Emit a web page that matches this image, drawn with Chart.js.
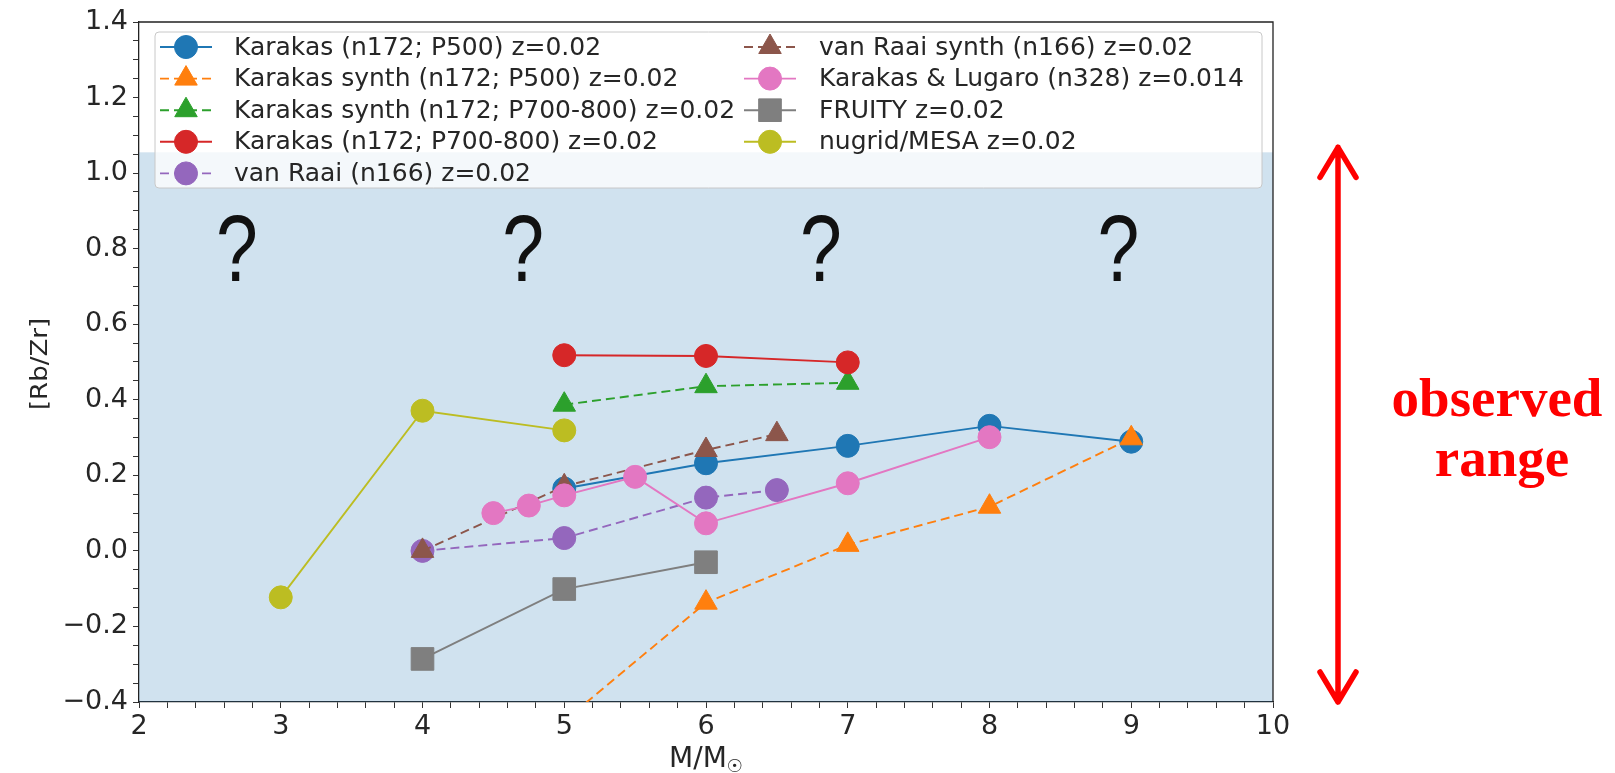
<!DOCTYPE html>
<html>
<head>
<meta charset="utf-8">
<title>[Rb/Zr] vs initial mass</title>
<script src="https://cdn.jsdelivr.net/npm/chart.js@4.4.1/dist/chart.umd.min.js"></script>
<style>
  html, body { margin: 0; padding: 0; background: #ffffff; }
  #wrap { width: 1615px; height: 773px; }
</style>
</head>
<body>
<div id="wrap"><canvas id="rbzrChart" width="1615" height="773"></canvas></div>
<script>
// model grids: initial mass (M/Msun) and surface [Rb/Zr]
const karakasP500Mass = [5, 6, 7, 8, 9];
const karakasP500RbZr = [0.165, 0.232, 0.278, 0.331, 0.289];

const karakasSynthP500Mass = [5, 6, 7, 8, 9];
const karakasSynthP500RbZr = [-0.45, -0.137, 0.016, 0.117, 0.298];

const karakasSynthP700Mass = [5, 6, 7];
const karakasSynthP700RbZr = [0.387, 0.436, 0.445];

const karakasP700Mass = [5, 6, 7];
const karakasP700RbZr = [0.518, 0.516, 0.499];

const vanRaaiMass = [4, 5, 6, 6.5];
const vanRaaiRbZr = [0.0, 0.034, 0.141, 0.161];

const vanRaaiSynthMass = [4, 5, 6, 6.5];
const vanRaaiSynthRbZr = [0.0, 0.171, 0.267, 0.309];

const karakasLugaroMass = [4.5, 4.75, 5, 5.5, 6, 7, 8];
const karakasLugaroRbZr = [0.10, 0.12, 0.147, 0.196, 0.073, 0.179, 0.301];

const fruityMass = [4, 5, 6];
const fruityRbZr = [-0.286, -0.101, -0.030];

const nugridMass = [3, 4, 5];
const nugridRbZr = [-0.123, 0.371, 0.319];

// axis ticks (majors get labels, the rest are minor marks)
const xTickValues = [];
for (let i = 0; i <= 40; i++) xTickValues.push(2 + i * 0.2);
const yTickValues = [];
for (let i = 0; i <= 36; i++) yTickValues.push(-0.4 + i * 0.05);

// shaded band of observed [Rb/Zr]
const observedRange = [-0.4, 1.055];

// "?" placeholders for the unexplained stars
const questionX = [2.69, 4.71, 6.81, 8.91];
const questionY = 0.715;

const tickFont = { family: '"DejaVu Sans"', size: 27 };
const textColor = '#262626';

function pairs(xs, ys) {
    return xs.map((x, i) => ({ x: x, y: ys[i] }));
}

function series(label, xs, ys, color, style, dashed) {
    return {
        label: label,
        data: pairs(xs, ys),
        showLine: true,
        borderColor: color,
        backgroundColor: color,
        borderWidth: 1.9,
        borderDash: dashed ? [9, 5] : [],
        pointStyle: style,
        pointRadius: style === 'triangle' ? 13 : (style === 'rect' ? 16 : 11.5),
        pointBackgroundColor: color,
        pointBorderColor: color,
        pointBorderWidth: 1,
        tension: 0
    };
}

const datasets = [
    series('Karakas (n172; P500) z=0.02', karakasP500Mass, karakasP500RbZr, '#1f77b4', 'circle', false),
    series('Karakas synth (n172; P500) z=0.02', karakasSynthP500Mass, karakasSynthP500RbZr, '#ff7f0e', 'triangle', true),
    series('Karakas synth (n172; P700-800) z=0.02', karakasSynthP700Mass, karakasSynthP700RbZr, '#2ca02c', 'triangle', true),
    series('Karakas (n172; P700-800) z=0.02', karakasP700Mass, karakasP700RbZr, '#d62728', 'circle', false),
    series('van Raai (n166) z=0.02', vanRaaiMass, vanRaaiRbZr, '#9467bd', 'circle', true),
    series('van Raai synth (n166) z=0.02', vanRaaiSynthMass, vanRaaiSynthRbZr, '#8c564b', 'triangle', true),
    series('Karakas & Lugaro (n328) z=0.014', karakasLugaroMass, karakasLugaroRbZr, '#e377c2', 'circle', false),
    series('FRUITY z=0.02', fruityMass, fruityRbZr, '#7f7f7f', 'rect', false),
    series('nugrid/MESA z=0.02', nugridMass, nugridRbZr, '#bcbd22', 'circle', false)
];
// later series sit on top of earlier ones
datasets.forEach((ds, i) => { ds.order = -i; });

// band, frame, "?" marks, legend, axis titles and the side arrow
const decorPlugin = {
    id: 'decor',
    beforeDatasetsDraw(chart) {
        const { ctx, chartArea } = chart;
        const yScale = chart.scales.y;
        const top = yScale.getPixelForValue(observedRange[1]);
        const bottom = Math.min(chartArea.bottom, yScale.getPixelForValue(observedRange[0]));
        ctx.save();
        ctx.fillStyle = 'rgba(31, 119, 180, 0.21)';
        ctx.fillRect(chartArea.left, top, chartArea.right - chartArea.left, bottom - top);
        ctx.restore();
    },
    afterDatasetsDraw(chart) {
        const { ctx, chartArea } = chart;
        const xScale = chart.scales.x;
        const yScale = chart.scales.y;
        ctx.save();

        // top and right spines
        ctx.strokeStyle = '#222';
        ctx.lineWidth = 1.3;
        ctx.beginPath();
        ctx.moveTo(chartArea.left, chartArea.top);
        ctx.lineTo(chartArea.right, chartArea.top);
        ctx.lineTo(chartArea.right, chartArea.bottom);
        ctx.stroke();

        // question marks, drawn a little narrow
        ctx.fillStyle = '#111';
        ctx.font = '94px "Liberation Sans"';
        ctx.textAlign = 'center';
        ctx.textBaseline = 'alphabetic';
        questionX.forEach(x => {
            ctx.save();
            ctx.translate(xScale.getPixelForValue(x), yScale.getPixelForValue(questionY));
            ctx.scale(0.8, 1);
            ctx.fillText('?', 0, 0);
            ctx.restore();
        });

        // legend box
        const box = { x: 155, y: 32, w: 1107, h: 156 };
        ctx.fillStyle = 'rgba(255, 255, 255, 0.78)';
        ctx.strokeStyle = '#c8c8c8';
        ctx.lineWidth = 1;
        ctx.beginPath();
        ctx.roundRect(box.x, box.y, box.w, box.h, 4);
        ctx.fill();
        ctx.stroke();

        const cols = [{ hx: 186, tx: 234 }, { hx: 770, tx: 819 }];
        ctx.font = '25px "DejaVu Sans"';
        ctx.textAlign = 'left';
        ctx.textBaseline = 'middle';
        chart.data.datasets.forEach((ds, i) => {
            const col = cols[Math.floor(i / 5)];
            const y = 47 + (i % 5) * 31.6;
            ctx.strokeStyle = ds.borderColor;
            ctx.lineWidth = ds.borderWidth;
            ctx.setLineDash(ds.borderDash);
            ctx.beginPath();
            ctx.moveTo(col.hx - 26, y);
            ctx.lineTo(col.hx + 26, y);
            ctx.stroke();
            ctx.setLineDash([]);
            ctx.fillStyle = ds.pointBackgroundColor;
            ctx.strokeStyle = ds.pointBorderColor;
            ctx.lineWidth = ds.pointBorderWidth;
            Chart.helpers.drawPoint(ctx, {
                pointStyle: ds.pointStyle,
                radius: ds.pointRadius,
                rotation: 0,
                borderWidth: ds.pointBorderWidth
            }, col.hx, y);
            ctx.fillStyle = textColor;
            ctx.fillText(ds.label, col.tx, y + 1);
        });
        ctx.restore();
    },
    afterDraw(chart) {
        const { ctx, chartArea } = chart;
        const yScale = chart.scales.y;
        ctx.save();
        ctx.fillStyle = textColor;

        // y title, slightly narrow glyphs
        ctx.font = '26px "DejaVu Sans"';
        ctx.textAlign = 'center';
        ctx.textBaseline = 'middle';
        ctx.translate(41, (chartArea.top + chartArea.bottom) / 2 + 2);
        ctx.rotate(-Math.PI / 2);
        ctx.scale(1, 0.9);
        ctx.fillText('[Rb/Zr]', 0, 0);
        ctx.setTransform(1, 0, 0, 1, 0, 0);

        // x title with solar subscript
        const cx = (chartArea.left + chartArea.right) / 2;
        ctx.textBaseline = 'alphabetic';
        ctx.textAlign = 'left';
        const main = 'M/M';
        ctx.font = '28px "DejaVu Sans"';
        const mainW = ctx.measureText(main).width;
        ctx.font = '18px "DejaVu Sans"';
        const subW = ctx.measureText('\u2609').width;
        const start = cx - (mainW + subW) / 2;
        ctx.font = '28px "DejaVu Sans"';
        ctx.fillText(main, start, 767);
        ctx.font = '18px "DejaVu Sans"';
        ctx.fillText('\u2609', start + mainW, 772);

        // observed-range arrow
        const ax = 1338;
        const aTop = yScale.getPixelForValue(observedRange[1]) - 5;
        const aBot = chartArea.bottom;
        ctx.strokeStyle = '#ff0000';
        ctx.lineWidth = 5.5;
        ctx.lineCap = 'round';
        ctx.lineJoin = 'round';
        ctx.beginPath();
        ctx.moveTo(ax, aTop);
        ctx.lineTo(ax, aBot);
        ctx.moveTo(ax - 18, aTop + 30);
        ctx.lineTo(ax, aTop);
        ctx.lineTo(ax + 18, aTop + 30);
        ctx.moveTo(ax - 18, aBot - 30);
        ctx.lineTo(ax, aBot);
        ctx.lineTo(ax + 18, aBot - 30);
        ctx.stroke();

        ctx.fillStyle = '#ff0000';
        ctx.font = 'bold 55px "Liberation Serif"';
        ctx.textAlign = 'center';
        ctx.fillText('observed', 1497, 416);
        ctx.fillText('range', 1502, 476);
        ctx.restore();
    }
};

function isMajor(v, step) {
    return Math.abs(v / step - Math.round(v / step)) < 1e-6;
}

const ctx = document.getElementById('rbzrChart').getContext('2d');
new Chart(ctx, {
    type: 'scatter',
    data: { datasets: datasets },
    options: {
        responsive: false,
        animation: false,
        devicePixelRatio: 1,
        layout: { padding: { top: 22, right: 342, left: 0, bottom: 0 } },
        plugins: {
            legend: { display: false },
            tooltip: { enabled: false }
        },
        scales: {
            x: {
                type: 'linear',
                min: 2,
                max: 10,
                afterBuildTicks: scale => { scale.ticks = xTickValues.map(v => ({ value: v })); },
                afterFit: scale => { scale.height = 71; },
                ticks: {
                    autoSkip: false,
                    maxRotation: 0,
                    padding: 3,
                    font: tickFont,
                    color: textColor,
                    callback: v => isMajor(v, 1) ? String(Math.round(v)) : ''
                },
                grid: { drawOnChartArea: false, tickLength: 6, tickColor: '#333', tickWidth: 1 },
                border: { color: '#222', width: 1.3 }
            },
            y: {
                type: 'linear',
                min: -0.4,
                max: 1.4,
                afterBuildTicks: scale => { scale.ticks = yTickValues.map(v => ({ value: v })); },
                afterFit: scale => { scale.width = 139; },
                ticks: {
                    autoSkip: false,
                    padding: 5,
                    font: tickFont,
                    color: textColor,
                    callback: v => {
                        if (!isMajor(v, 0.2)) return '';
                        if (Math.abs(v) < 1e-9) return '0.0';
                        return v.toFixed(1).replace('-', '\u2212');
                    }
                },
                grid: { drawOnChartArea: false, tickLength: 6, tickColor: '#333', tickWidth: 1 },
                border: { color: '#222', width: 1.3 }
            }
        }
    },
    plugins: [decorPlugin]
});
</script>
</body>
</html>
